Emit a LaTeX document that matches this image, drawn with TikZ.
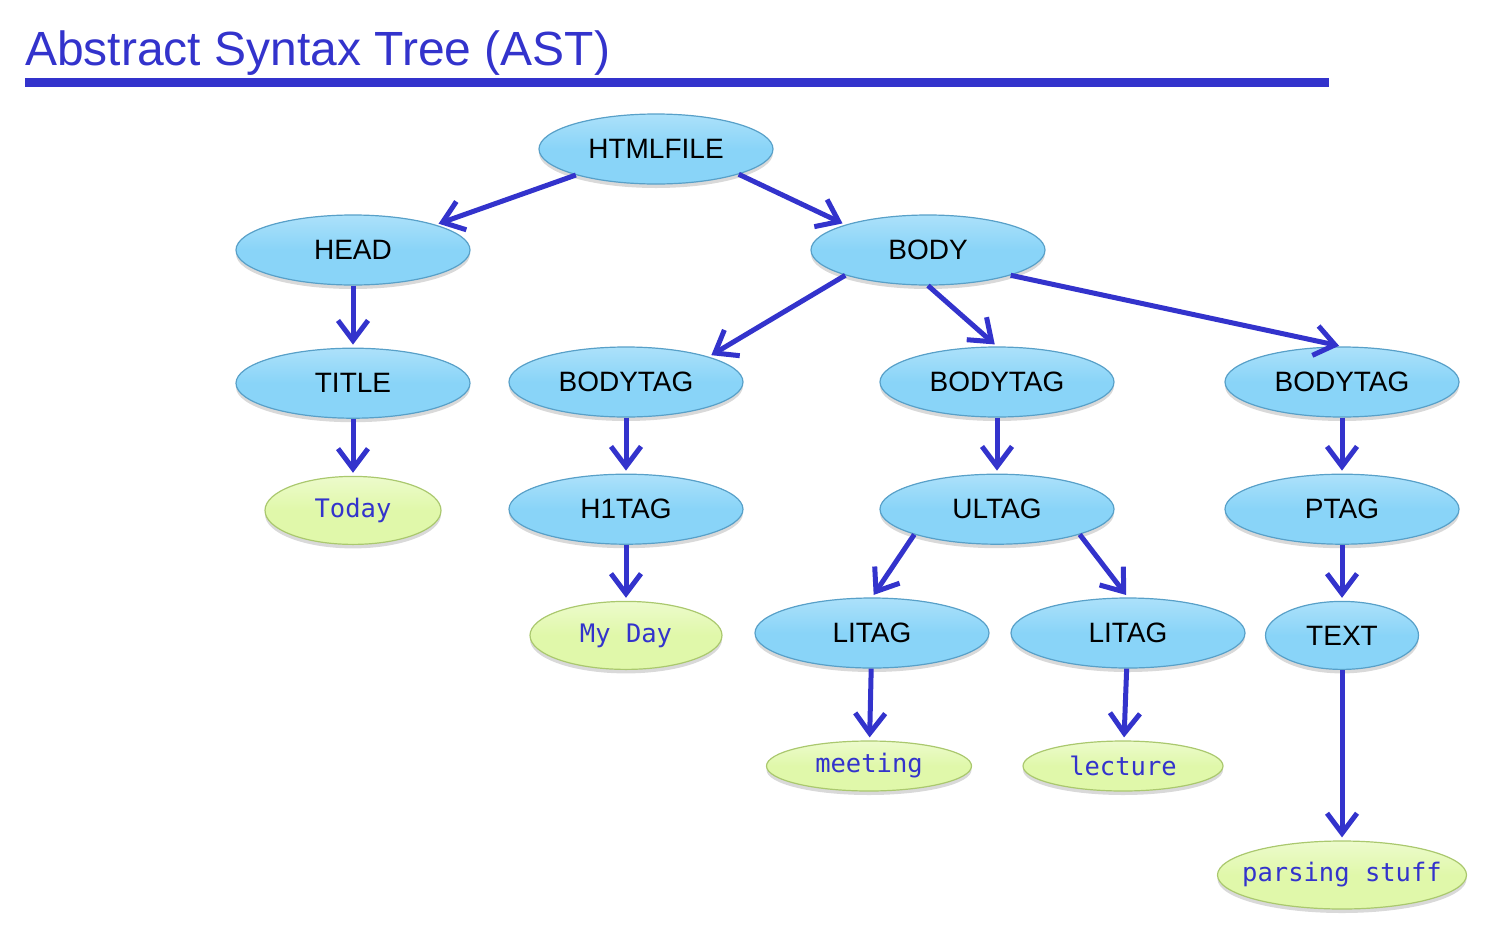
\documentclass[tikz,border=0pt]{standalone}
\usepackage{fontspec}
\setmainfont{Liberation Sans}
\setmonofont{DejaVu Sans Mono}
\usepackage{tikz}
\usetikzlibrary{arrows.meta,positioning,shapes.geometric,shadows}

\definecolor{inkblue}{RGB}{51,51,204}
\definecolor{skyfill}{RGB}{137,212,248}
\definecolor{skyedge}{RGB}{88,160,200}
\definecolor{limefill}{RGB}{224,248,170}
\definecolor{limeedge}{RGB}{170,200,110}

\begin{document}
\begin{tikzpicture}[
    x=1pt, y=-1pt,
    blob/.style={ellipse, draw=skyedge, line width=1.2pt, top color=skyfill!70!white,
                 bottom color=skyfill, middle color=skyfill, minimum width=234pt,
                 minimum height=70pt, inner sep=0pt,
                 font=\fontsize{28}{30}\selectfont,
                 drop shadow={opacity=0.3, shadow xshift=0pt, shadow yshift=-4pt}},
    leaf/.style={ellipse, draw=limeedge, line width=1.2pt, top color=limefill!60!white,
                 bottom color=limefill, middle color=limefill, minimum height=68pt,
                 inner sep=0pt, text=inkblue,
                 font=\ttfamily\fontsize{25.5}{27}\selectfont,
                 drop shadow={opacity=0.3, shadow xshift=0pt, shadow yshift=-4pt}},
    arrow/.style={-{Straight Barb[length=20pt, width=30pt]}, line width=5pt,
                  draw=inkblue, shorten >=3pt}
]
\useasboundingbox (0,0) rectangle (1496,932);

% heading
\node[anchor=base west, inner sep=0pt, text=inkblue,
      font=\fontsize{48}{50}\selectfont] (heading) at (25,65) {Abstract Syntax Tree (AST)};
\fill[inkblue] (25,78) rectangle (1329,87);

% tree
\node[blob] (htmlfile) at (656,149) {HTMLFILE};
\node[blob] (head) at (353,250) {HEAD};
\node[blob] (body) at (928,250) {BODY};

\node[blob, below=62pt of head] (title) {TITLE};
\node[leaf, minimum width=176pt, below=57pt of title] (today) {Today};

\node[blob] (bodytagA) at (626,382) {BODYTAG};
\node[blob] (bodytagB) at (997,382) {BODYTAG};
\node[blob] (bodytagC) at (1342,382) {BODYTAG};

\node[blob, below=56pt of bodytagA] (h1tag) {H1TAG};
\node[blob, below=56pt of bodytagB] (ultag) {ULTAG};
\node[blob, below=56pt of bodytagC] (ptag)  {PTAG};

\node[leaf, minimum width=192pt, below=56pt of h1tag] (myday) {My Day};
\node[blob] (litagA) at (872,633) {LITAG};
\node[blob] (litagB) at (1128,633) {LITAG};
\node[blob, minimum width=153pt, minimum height=68pt, below=56pt of ptag] (text) {TEXT};

\node[leaf, minimum width=205pt, minimum height=50pt] (meeting) at (869,766) {meeting};
\node[leaf, minimum width=200pt, minimum height=50pt] (lecture) at (1123,766) {lecture};
\node[leaf, minimum width=249pt, inner xsep=-13pt] (parsing) at (1342,875) {parsing stuff};

\draw[arrow] (htmlfile.-162) -- (head.17);
\draw[arrow] (htmlfile.-17)  -- (body.163);
\draw[arrow] (head)          -- (title);
\draw[arrow] (title)         -- (today);
\draw[arrow] (body.-163)     -- (bodytagA.17);
\draw[arrow] (body.south)    -- (bodytagB.north);
\draw[arrow] (body.-17)      -- (bodytagC.north);
\draw[arrow] (bodytagA)      -- (h1tag);
\draw[arrow] (bodytagB)      -- (ultag);
\draw[arrow] (bodytagC)      -- (ptag);
\draw[arrow] (h1tag)         -- (myday);
\draw[arrow] (ultag.-163)    -- (litagA.north);
\draw[arrow] (ultag.-17)     -- (litagB.north);
\draw[arrow] (ptag)          -- (text);
\draw[arrow] (litagA)        -- (meeting);
\draw[arrow] (litagB)        -- (lecture);
\draw[arrow] (text)          -- (parsing);
\end{tikzpicture}
\end{document}
